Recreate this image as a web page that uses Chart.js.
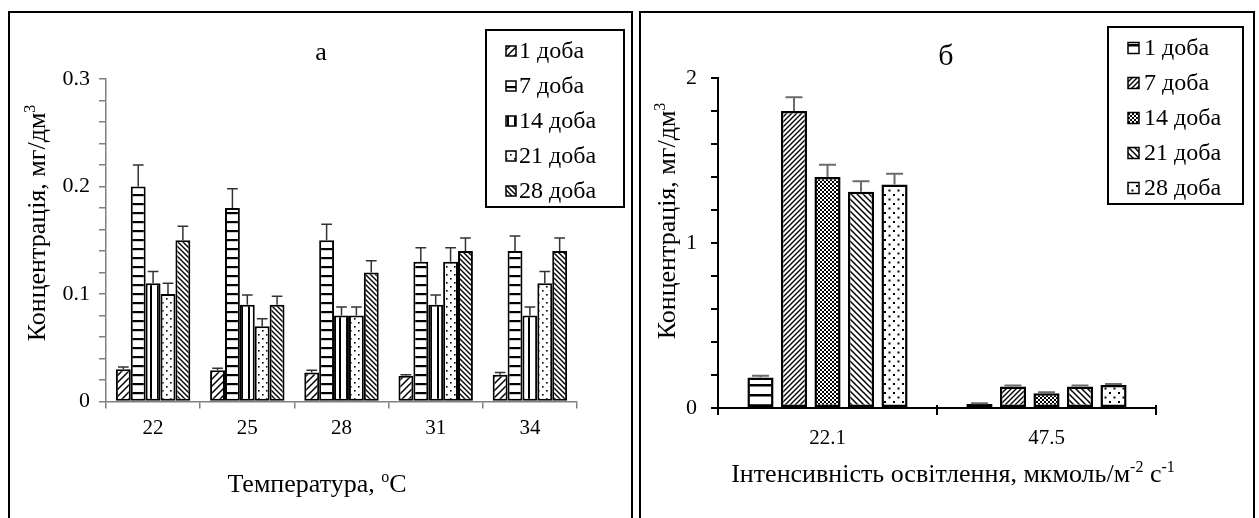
<!DOCTYPE html>
<html>
<head>
<meta charset="utf-8">
<script src="https://cdn.jsdelivr.net/npm/chart.js@4.4.1/dist/chart.umd.min.js"></script>
<style>
  html, body { margin: 0; padding: 0; background: #fff; }
  body { position: relative; width: 1259px; height: 518px; overflow: hidden; }
  .frame { position: absolute; box-sizing: border-box; border: 2px solid #000; }
  #frameA { left: 8px; top: 11px; width: 625px; height: 530px; }
  #frameB { left: 639px; top: 11px; width: 616px; height: 530px; }
  canvas { position: absolute; }
  #chartA { left: 10px; top: 14px; width: 620px; height: 504px; }
  #chartB { left: 641px; top: 14px; width: 611px; height: 504px; }
</style>
</head>
<body>
<div class="frame" id="frameA"></div>
<div class="frame" id="frameB"></div>
<canvas id="chartA" width="620" height="504"></canvas>
<canvas id="chartB" width="611" height="504"></canvas>
<script>
const FONT = '"Liberation Serif", "Times New Roman", serif';
const dayLabels = ['1 доба', '7 доба', '14 доба', '21 доба', '28 доба'];

// Panel а: concentration vs temperature
const tempCategories = ['22', '25', '28', '31', '34'];
const tempDay1  = [0.030, 0.029, 0.027, 0.024, 0.025];
const tempDay7  = [0.200, 0.180, 0.150, 0.130, 0.140];
const tempDay14 = [0.110, 0.090, 0.080, 0.090, 0.080];
const tempDay21 = [0.100, 0.070, 0.080, 0.130, 0.110];
const tempDay28 = [0.150, 0.090, 0.120, 0.140, 0.140];
const tempErr1  = [0.002, 0.002, 0.002, 0.001, 0.002];
const tempErr7  = [0.020, 0.018, 0.015, 0.013, 0.014];
const tempErr14 = [0.011, 0.009, 0.008, 0.009, 0.008];
const tempErr21 = [0.010, 0.007, 0.008, 0.013, 0.011];
const tempErr28 = [0.013, 0.008, 0.011, 0.012, 0.012];
const tempTickValues = [0, 0.1, 0.2, 0.3];
const tempTickLabels = ['0', '0.1', '0.2', '0.3'];

// Panel б: concentration vs light intensity
const lightCategories = ['22.1', '47.5'];
const lightDay1  = [0.185, 0.025];
const lightDay7  = [1.800, 0.130];
const lightDay14 = [1.400, 0.090];
const lightDay21 = [1.310, 0.130];
const lightDay28 = [1.355, 0.140];
const lightErr1  = [0.010, 0.004];
const lightErr7  = [0.083, 0.006];
const lightErr14 = [0.075, 0.005];
const lightErr21 = [0.065, 0.006];
const lightErr28 = [0.065, 0.006];
const lightTickValues = [0, 1, 2];
const lightTickLabels = ['0', '1', '2'];

// Monochrome fill patterns for the bars
function makePattern(ctx, spec) {
  const s = spec.size;
  const tile = document.createElement('canvas');
  tile.width = s; tile.height = s;
  const g = tile.getContext('2d');
  g.fillStyle = '#fff';
  g.fillRect(0, 0, s, s);
  g.fillStyle = '#000';
  g.strokeStyle = '#000';
  g.lineWidth = spec.lw || 1;
  const slash = () => {
    g.beginPath();
    g.moveTo(-1, s + 1); g.lineTo(s + 1, -1);
    g.moveTo(-1, 1); g.lineTo(1, -1);
    g.moveTo(s - 1, s + 1); g.lineTo(s + 1, s - 1);
    g.stroke();
  };
  const backslash = () => {
    g.beginPath();
    g.moveTo(-1, -1); g.lineTo(s + 1, s + 1);
    g.moveTo(s - 1, -1); g.lineTo(s + 1, 1);
    g.moveTo(-1, s - 1); g.lineTo(1, s + 1);
    g.stroke();
  };
  switch (spec.kind) {
    case 'hlines': g.fillRect(0, 0, s, spec.lw); break;
    case 'vlines': g.fillRect(0, 0, spec.lw, s); break;
    case 'slash': slash(); break;
    case 'backslash': backslash(); break;
    case 'cross': slash(); backslash(); break;
    case 'dots':
      g.fillRect(0, 0, spec.dot, spec.dot);
      g.fillRect(s / 2, s / 2, spec.dot, spec.dot);
      break;
  }
  return ctx.createPattern(tile, 'repeat');
}

// Text with optional superscript runs, centred on (x, y) baseline
function drawRuns(ctx, runs, x, y, size, rotate) {
  ctx.save();
  ctx.translate(x, y);
  if (rotate) ctx.rotate(-Math.PI / 2);
  ctx.textAlign = 'left';
  ctx.textBaseline = 'alphabetic';
  ctx.fillStyle = '#000';
  const fonts = runs.map(r => (r.sup ? Math.round(size * 0.62) : size) + 'px ' + FONT);
  let total = 0;
  runs.forEach((r, i) => { ctx.font = fonts[i]; total += ctx.measureText(r.t).width; });
  let cx = -total / 2;
  runs.forEach((r, i) => {
    ctx.font = fonts[i];
    ctx.fillText(r.t, cx, r.sup ? -size * 0.38 : 0);
    cx += ctx.measureText(r.t).width;
  });
  ctx.restore();
}

function errorBarPlugin(errors, style) {
  return {
    id: 'errorBars',
    afterDatasetsDraw(chart) {
      const ctx = chart.ctx;
      const y = chart.scales.y;
      ctx.save();
      ctx.strokeStyle = style.color;
      ctx.lineWidth = style.width;
      chart.data.datasets.forEach((ds, i) => {
        const meta = chart.getDatasetMeta(i);
        meta.data.forEach((bar, j) => {
          const v = ds.data[j];
          const yBar = y.getPixelForValue(v);
          const yTop = y.getPixelForValue(v + errors[i][j]);
          const half = bar.width * style.cap / 2;
          ctx.beginPath();
          ctx.moveTo(bar.x, yBar); ctx.lineTo(bar.x, yTop);
          ctx.moveTo(bar.x - half, yTop); ctx.lineTo(bar.x + half, yTop);
          ctx.stroke();
        });
      });
      ctx.restore();
    }
  };
}

// Category separators that also poke slightly above the x axis line
function crossTickPlugin(style) {
  return {
    id: 'crossTicks',
    afterDraw(chart) {
      if (!style.above) return;
      const ctx = chart.ctx;
      const x = chart.scales.x;
      const n = chart.data.labels.length;
      const yAxis = chart.chartArea.bottom;
      ctx.save();
      ctx.strokeStyle = style.color;
      ctx.lineWidth = style.width;
      for (let k = 0; k <= n; k++) {
        const px = Math.round(x.getPixelForDecimal(k / n));
        ctx.beginPath();
        ctx.moveTo(px, yAxis);
        ctx.lineTo(px, yAxis - style.above);
        ctx.stroke();
      }
      ctx.restore();
    }
  };
}

function boxedLegendPlugin(box) {
  return {
    id: 'boxedLegend',
    afterDraw(chart) {
      const ctx = chart.ctx;
      ctx.save();
      ctx.fillStyle = '#fff';
      ctx.fillRect(box.x, box.y, box.w, box.h);
      ctx.strokeStyle = '#000';
      ctx.lineWidth = 2;
      ctx.strokeRect(box.x, box.y, box.w, box.h);
      chart.data.datasets.forEach((ds, i) => {
        const cy = box.y + box.first + i * box.gap;
        ctx.fillStyle = ds.backgroundColor;
        ctx.fillRect(box.swX, cy - box.sw / 2, box.sw, box.sw);
        ctx.lineWidth = 1.5;
        ctx.strokeStyle = '#000';
        ctx.strokeRect(box.swX, cy - box.sw / 2, box.sw, box.sw);
        ctx.fillStyle = '#000';
        ctx.font = box.font + 'px ' + FONT;
        ctx.textAlign = 'left';
        ctx.textBaseline = 'middle';
        ctx.fillText(ds.label, box.textX, cy + 1);
      });
      ctx.restore();
    }
  };
}

function captionPlugin(items) {
  return {
    id: 'captions',
    afterDraw(chart) {
      items.forEach(it => drawRuns(chart.ctx, it.runs, it.x, it.y, it.size, it.rotate));
    }
  };
}

function buildChart(canvasId, cfg) {
  const canvas = document.getElementById(canvasId);
  const ctx = canvas.getContext('2d');
  const datasets = cfg.series.map((data, i) => ({
    label: dayLabels[i],
    data: data,
    backgroundColor: makePattern(ctx, cfg.patterns[i]),
    borderColor: '#000',
    borderWidth: cfg.barBorder,
    borderSkipped: false,
    barPercentage: cfg.barPct,
    categoryPercentage: cfg.catPct
  }));
  return new Chart(ctx, {
    type: 'bar',
    data: { labels: cfg.categories, datasets: datasets },
    options: {
      responsive: false,
      animation: false,
      events: [],
      layout: { padding: cfg.padding },
      plugins: { legend: { display: false }, tooltip: { enabled: false }, title: { display: false } },
      scales: {
        x: {
          afterFit: s => { s.height = cfg.xHeight; },
          grid: { offset: true, drawOnChartArea: false, tickLength: 7, color: cfg.axisColor, lineWidth: cfg.axisWidth },
          border: { color: cfg.axisColor, width: cfg.axisWidth },
          ticks: { color: '#000', padding: cfg.xTickPad, font: { family: FONT, size: cfg.xTickFont } }
        },
        y: {
          min: 0,
          max: cfg.yMax,
          afterFit: s => { s.width = cfg.yWidth; },
          grid: { drawOnChartArea: false, tickLength: 7, color: cfg.axisColor, lineWidth: cfg.axisWidth },
          border: { color: cfg.axisColor, width: cfg.axisWidth },
          ticks: {
            stepSize: cfg.yStep,
            autoSkip: false,
            color: '#000',
            padding: cfg.yTickPad,
            font: { family: FONT, size: cfg.yTickFont },
            callback: v => {
              const k = cfg.tickValues.findIndex(t => Math.abs(t - v) < 1e-9);
              return k >= 0 ? cfg.tickLabels[k] : '';
            }
          }
        }
      }
    },
    plugins: [
      errorBarPlugin(cfg.errors, cfg.errStyle),
      crossTickPlugin({ above: cfg.tickAbove, color: cfg.axisColor, width: cfg.axisWidth }),
      boxedLegendPlugin(cfg.legend),
      captionPlugin(cfg.captions)
    ]
  });
}

const yTitleRuns = [{ t: 'Концентрація, мг/дм' }, { t: '3', sup: true }];

buildChart('chartA', {
  categories: tempCategories,
  series: [tempDay1, tempDay7, tempDay14, tempDay21, tempDay28],
  errors: [tempErr1, tempErr7, tempErr14, tempErr21, tempErr28],
  patterns: [
    { kind: 'slash', size: 7, lw: 1.5 },
    { kind: 'hlines', size: 9, lw: 2.2 },
    { kind: 'vlines', size: 7, lw: 2 },
    { kind: 'dots', size: 8, dot: 1.6 },
    { kind: 'backslash', size: 5, lw: 1.4 }
  ],
  barBorder: 2, barPct: 1.0, catPct: 0.79,
  padding: { left: 0, top: 65, right: 53, bottom: 0 },
  xHeight: 116.5, yWidth: 96,
  axisColor: '#808080', axisWidth: 1.5, tickAbove: 0,
  xTickFont: 21, yTickFont: 22, xTickPad: 7, yTickPad: 9,
  yMax: 0.3, yStep: 0.02,
  tickValues: tempTickValues, tickLabels: tempTickLabels,
  errStyle: { color: '#333', width: 1.5, cap: 0.72 },
  legend: { x: 476, y: 16, w: 138, h: 177, first: 21, gap: 35, swX: 496, sw: 10, textX: 509, font: 24 },
  captions: [
    { runs: [{ t: 'а' }], x: 311, y: 46, size: 26 },
    { runs: yTitleRuns, x: 35, y: 209, size: 26, rotate: true },
    { runs: [{ t: 'Температура, ' }, { t: 'o', sup: true }, { t: 'C' }], x: 307, y: 478, size: 26 }
  ]
});

buildChart('chartB', {
  categories: lightCategories,
  series: [lightDay1, lightDay7, lightDay14, lightDay21, lightDay28],
  errors: [lightErr1, lightErr7, lightErr14, lightErr21, lightErr28],
  patterns: [
    { kind: 'hlines', size: 10, lw: 2.5 },
    { kind: 'slash', size: 5, lw: 1.4 },
    { kind: 'cross', size: 4, lw: 1 },
    { kind: 'backslash', size: 6, lw: 1.5 },
    { kind: 'dots', size: 9, dot: 2 }
  ],
  barBorder: 2.5, barPct: 0.78, catPct: 0.765,
  padding: { left: 0, top: 64, right: 96, bottom: 0 },
  xHeight: 110, yWidth: 77,
  axisColor: '#000', axisWidth: 2, tickAbove: 3,
  xTickFont: 21, yTickFont: 22, xTickPad: 11, yTickPad: 14,
  yMax: 2, yStep: 0.2,
  tickValues: lightTickValues, tickLabels: lightTickLabels,
  errStyle: { color: '#6b6b6b', width: 2, cap: 0.65 },
  legend: { x: 467, y: 13, w: 135, h: 177, first: 21, gap: 35, swX: 487, sw: 11, textX: 503, font: 24 },
  captions: [
    { runs: [{ t: 'б' }], x: 305, y: 51, size: 30 },
    { runs: yTitleRuns, x: 34, y: 207, size: 26, rotate: true },
    { runs: [{ t: 'Інтенсивність освітлення, мкмоль/м' }, { t: '-2', sup: true }, { t: ' с' }, { t: '-1', sup: true }], x: 312, y: 468, size: 26 }
  ]
});
</script>
</body>
</html>
